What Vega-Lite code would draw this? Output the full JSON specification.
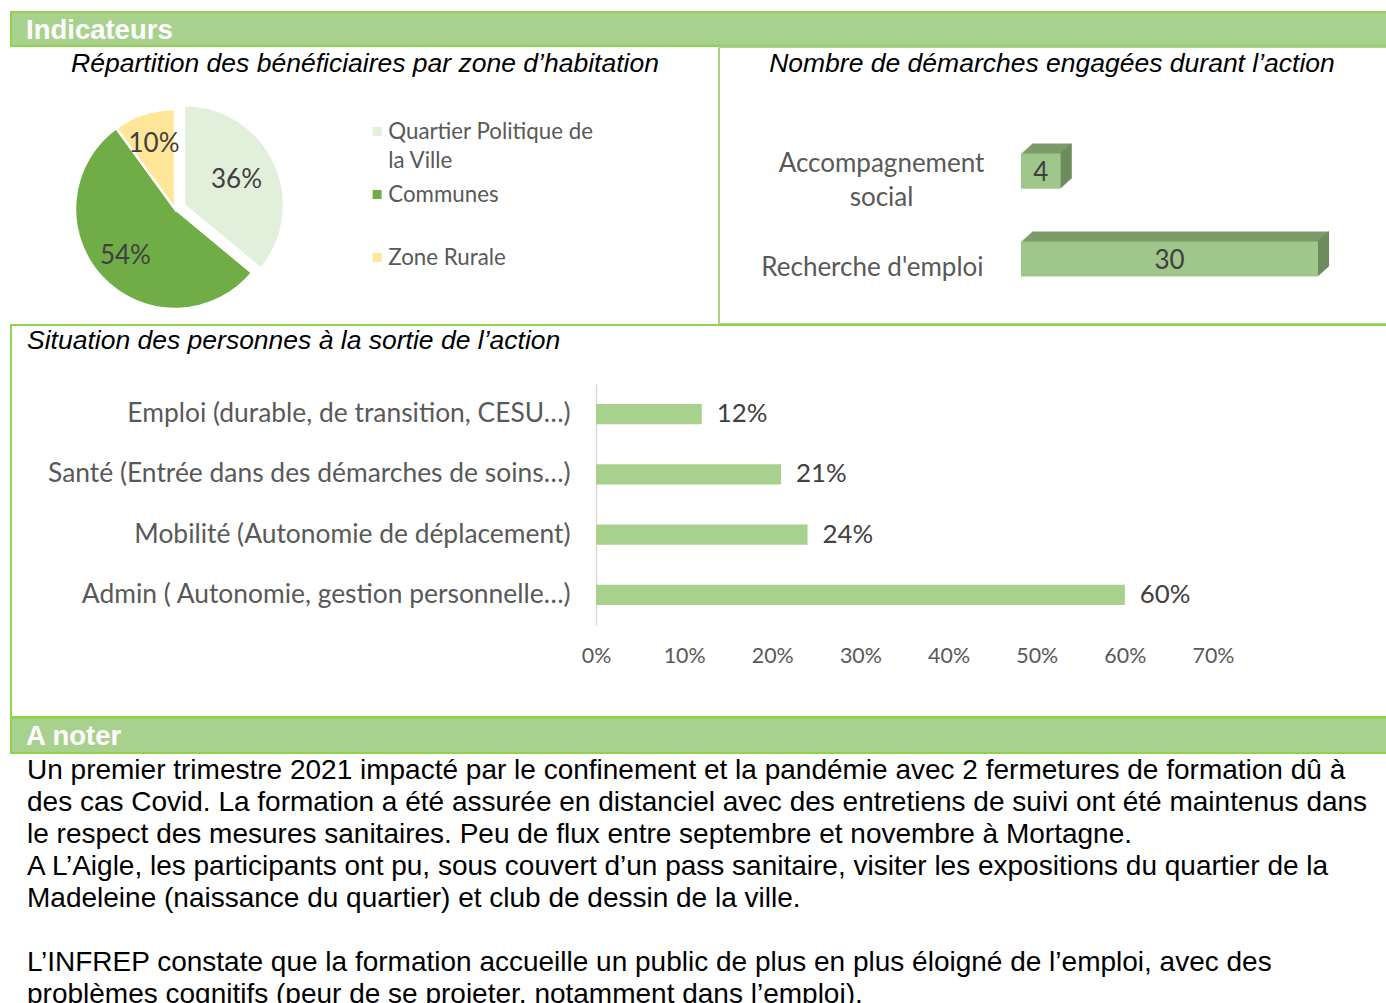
{
  "$schema": "https://vega.github.io/schema/vega-lite/v6.json",
  "padding": {"left": 10, "top": 11, "right": -2, "bottom": -10},
  "background": "#ffffff",
  "spacing": -3,
  "config": {
    "view": {"stroke": "#92d050", "strokeWidth": 2},
    "font": "Lato",
    "axis": {"grid": false, "ticks": false, "tickSize": 0, "title": null},
    "style": {"guide-label": {"lineHeight": 29}}
  },
  "vconcat": [
    {
      "width": 1376,
      "height": 34,
      "view": {"fill": "#a9d18e", "stroke": "#92d050", "strokeWidth": 2},
      "title": {"text": "Indicateurs", "orient": "bottom", "baseline": "top", "frame": "group", "anchor": "start", "offset": -29.4, "dx": 15, "font": "Liberation Sans", "fontSize": 27.5, "fontWeight": "bold", "color": "#ffffff"},
      "data": {"values": [{"t": ""}]},
      "mark": {"type": "text", "text": " "}
    },
    {
      "spacing": 0,
      "bounds": "flush",
      "hconcat": [
        {
          "width": 708,
          "height": 277,
          "title": {"text": "Répartition des bénéficiaires par zone d’habitation", "orient": "bottom", "baseline": "top", "frame": "group", "anchor": "middle", "offset": -273.4, "font": "Liberation Sans", "fontSize": 26.5, "fontStyle": "italic", "fontWeight": "normal", "color": "#000000"},
          "data": {"values": [
            {"zone": "Quartier Politique de la Ville", "part": 0.36, "rang": 1},
            {"zone": "Communes", "part": 0.54, "rang": 2},
            {"zone": "Zone Rurale", "part": 0.10, "rang": 3}
          ]},
          "transform": [{"stack": "part", "groupby": [], "sort": [{"field": "rang", "order": "ascending"}], "as": ["debut", "fin"]}],
          "layer": [
            {
              "transform": [{"filter": "datum.rang == 1"}],
              "mark": {"type": "arc", "radius": 100, "x": 173, "y": 158, "stroke": "#ffffff", "strokeWidth": 2.5},
              "encoding": {
                "theta": {"field": "debut", "type": "quantitative", "scale": {"domain": [0, 1]}},
                "theta2": {"field": "fin"},
                "color": {
                  "field": "zone", "type": "nominal",
                  "scale": {"domain": ["Quartier Politique de la Ville", "Communes", "Zone Rurale"], "range": ["#e2efda", "#70ad47", "#ffe699"]},
                  "legend": {"orient": "none", "legendX": 355, "legendY": 116, "title": null, "padding": 0, "symbolType": "M-1,-2.7H1V-0.7H-1Z", "symbolSize": 81, "symbolStrokeWidth": 0, "labelFont": "Lato", "labelFontSize": 22.3, "labelColor": "#595959", "labelOffset": 0, "rowPadding": 11, "labelLimit": 400, "labelBaseline": "alphabetic", "labelLineHeight": 29, "labelExpr": "datum.label == 'Quartier Politique de la Ville' ? ['Quartier Politique de', 'la Ville'] : [datum.label, '\u00a0']"}
                }
              }
            },
            {
              "transform": [{"filter": "datum.rang != 1"}],
              "mark": {"type": "arc", "radius": 100, "x": 164, "y": 162, "stroke": "#ffffff", "strokeWidth": 2.5},
              "encoding": {
                "theta": {"field": "debut", "type": "quantitative"},
                "theta2": {"field": "fin"},
                "color": {"field": "zone", "type": "nominal"}
              }
            },
            {
              "mark": {"type": "text", "radius": 68, "x": 164, "y": 162, "font": "Lato", "fontSize": 26, "color": "#404040"},
              "encoding": {
                "theta": {"field": "part", "type": "quantitative", "stack": true},
                "order": {"field": "rang"},
                "detail": {"field": "zone"},
                "text": {"field": "part", "format": ".0%"}
              }
            }
          ]
        },
        {
          "width": 668,
          "height": 277,
          "view": {"stroke": "#a9d18e", "strokeWidth": 2},
          "title": {"text": "Nombre de démarches engagées durant l’action", "orient": "bottom", "baseline": "top", "frame": "group", "anchor": "middle", "offset": -273.4, "dx": -1, "font": "Liberation Sans", "fontSize": 26.5, "fontStyle": "italic", "fontWeight": "normal", "color": "#000000"},
          "data": {"values": [
            {"demarche": "Accompagnement social", "nombre": 4},
            {"demarche": "Recherche d'emploi", "nombre": 30}
          ]},
          "encoding": {
            "y": {
              "field": "demarche", "type": "nominal", "sort": null,
              "scale": {"range": [62.5, 273.5], "paddingInner": 0.6, "paddingOuter": 0.5},
              "axis": {"orient": "left", "offset": -302, "domain": false, "ticks": false, "labelFont": "Lato", "labelFontSize": 26, "labelColor": "#595959", "labelLineHeight": 34, "labelLimit": 400,
                "labelOffset": {"condition": {"test": "datum.value === 'Accompagnement social'", "value": -7}, "value": 9},
                "labelPadding": {"condition": {"test": "datum.value === 'Accompagnement social'", "value": 140}, "value": 38},
                "labelAlign": {"condition": {"test": "datum.value === 'Accompagnement social'", "value": "center"}, "value": "right"},
                "labelExpr": "datum.value === 'Accompagnement social' ? ['Accompagnement', 'social'] : datum.label",
                "title": null}
            },
            "x": {"field": "nombre", "type": "quantitative", "scale": {"domain": [0, 30], "range": [302, 599]}, "axis": null}
          },
          "layer": [
            {"mark": {"type": "bar", "color": "#7c9a6a", "xOffset": 11, "x2Offset": 11, "yOffset": -10, "y2Offset": -10}},
            {"mark": {"type": "bar", "color": "#7c9a6a", "xOffset": 9.9, "x2Offset": 9.9, "yOffset": -9, "y2Offset": -9}},
            {"mark": {"type": "bar", "color": "#7c9a6a", "xOffset": 8.8, "x2Offset": 8.8, "yOffset": -8, "y2Offset": -8}},
            {"mark": {"type": "bar", "color": "#7c9a6a", "xOffset": 7.7, "x2Offset": 7.7, "yOffset": -7, "y2Offset": -7}},
            {"mark": {"type": "bar", "color": "#7c9a6a", "xOffset": 6.6, "x2Offset": 6.6, "yOffset": -6, "y2Offset": -6}},
            {"mark": {"type": "bar", "color": "#7c9a6a", "xOffset": 5.5, "x2Offset": 5.5, "yOffset": -5, "y2Offset": -5}},
            {"mark": {"type": "bar", "color": "#7c9a6a", "xOffset": 4.4, "x2Offset": 4.4, "yOffset": -4, "y2Offset": -4}},
            {"mark": {"type": "bar", "color": "#7c9a6a", "xOffset": 3.3, "x2Offset": 3.3, "yOffset": -3, "y2Offset": -3}},
            {"mark": {"type": "bar", "color": "#7c9a6a", "xOffset": 2.2, "x2Offset": 2.2, "yOffset": -2, "y2Offset": -2}},
            {"mark": {"type": "bar", "color": "#7c9a6a", "xOffset": 1.1, "x2Offset": 1.1, "yOffset": -1, "y2Offset": -1}},
            {"mark": {"type": "tick", "orient": "vertical", "color": "#68865a", "thickness": 1.3, "size": 35.16, "xOffset": 10.45, "yOffset": -10}},
            {"mark": {"type": "tick", "orient": "vertical", "color": "#68865a", "thickness": 1.3, "size": 35.16, "xOffset": 9.35, "yOffset": -9}},
            {"mark": {"type": "tick", "orient": "vertical", "color": "#68865a", "thickness": 1.3, "size": 35.16, "xOffset": 8.25, "yOffset": -8}},
            {"mark": {"type": "tick", "orient": "vertical", "color": "#68865a", "thickness": 1.3, "size": 35.16, "xOffset": 7.15, "yOffset": -7}},
            {"mark": {"type": "tick", "orient": "vertical", "color": "#68865a", "thickness": 1.3, "size": 35.16, "xOffset": 6.05, "yOffset": -6}},
            {"mark": {"type": "tick", "orient": "vertical", "color": "#68865a", "thickness": 1.3, "size": 35.16, "xOffset": 4.95, "yOffset": -5}},
            {"mark": {"type": "tick", "orient": "vertical", "color": "#68865a", "thickness": 1.3, "size": 35.16, "xOffset": 3.85, "yOffset": -4}},
            {"mark": {"type": "tick", "orient": "vertical", "color": "#68865a", "thickness": 1.3, "size": 35.16, "xOffset": 2.75, "yOffset": -3}},
            {"mark": {"type": "tick", "orient": "vertical", "color": "#68865a", "thickness": 1.3, "size": 35.16, "xOffset": 1.65, "yOffset": -2}},
            {"mark": {"type": "tick", "orient": "vertical", "color": "#68865a", "thickness": 1.3, "size": 35.16, "xOffset": 0.55, "yOffset": -1}},
            {"mark": {"type": "bar", "color": "#a0c78b"}},
            {
              "mark": {"type": "text", "font": "Lato", "fontSize": 26, "color": "#404040", "dy": 2},
              "encoding": {
                "x": {"field": "nombre", "type": "quantitative", "stack": "zero", "bandPosition": 0.5},
                "text": {"field": "nombre"}
              }
            }
          ]
        }
      ]
    },
    {
      "width": 1376,
      "height": 392,
      "title": {"text": "Situation des personnes à la sortie de l’action", "orient": "bottom", "baseline": "top", "frame": "group", "anchor": "start", "dx": 16, "offset": -389.4, "font": "Liberation Sans", "fontSize": 26.5, "fontStyle": "italic", "fontWeight": "normal", "color": "#000000"},
      "data": {"values": [
        {"situation": "Emploi (durable, de transition, CESU…)", "taux": 0.12},
        {"situation": "Santé (Entrée dans des démarches de soins…)", "taux": 0.21},
        {"situation": "Mobilité (Autonomie de déplacement)", "taux": 0.24},
        {"situation": "Admin ( Autonomie, gestion personnelle…)", "taux": 0.60}
      ]},
      "encoding": {
        "y": {
          "field": "situation", "type": "nominal", "sort": null,
          "scale": {"range": [59, 300], "paddingInner": 0.668, "paddingOuter": 0.334},
          "axis": {"orient": "left", "offset": -585, "domain": true, "domainColor": "#d9d9d9", "domainWidth": 1.5, "ticks": false, "labelPadding": 26, "labelFont": "Lato", "labelFontSize": 26.4, "labelColor": "#595959", "labelLimit": 600, "title": null,
            "labelExpr": "indexof(datum.label, 'Santé') == 0 ? datum.label + '\u00a0' : datum.label"}
        },
        "x": {
          "field": "taux", "type": "quantitative",
          "scale": {"domain": [0, 0.7], "range": [585, 1202]},
          "axis": {"orient": "bottom", "offset": -92, "domain": false, "ticks": false, "values": [0, 0.1, 0.2, 0.3, 0.4, 0.5, 0.6, 0.7], "format": ".0%", "labelPadding": 20, "labelFont": "Lato", "labelFontSize": 21.4, "labelColor": "#595959", "labelFlush": false, "title": null}
        }
      },
      "layer": [
        {"mark": {"type": "bar", "color": "#a9d18e"}},
        {
          "mark": {"type": "text", "align": "left", "dx": 15, "font": "Lato", "fontSize": 25.8, "color": "#404040"},
          "encoding": {"text": {"field": "taux", "format": ".0%"}}
        }
      ]
    },
    {
      "width": 1376,
      "height": 35,
      "view": {"fill": "#a9d18e", "stroke": "#92d050", "strokeWidth": 2},
      "title": {"text": "A noter", "orient": "bottom", "baseline": "top", "frame": "group", "anchor": "start", "offset": -29.7, "dx": 15, "font": "Liberation Sans", "fontSize": 27.5, "fontWeight": "bold", "color": "#ffffff"},
      "data": {"values": [{"t": ""}]},
      "mark": {"type": "text", "text": " "}
    },
    {
      "width": 1376,
      "height": 266,
      "title": {
        "text": [
          "Un premier trimestre 2021 impacté par le confinement et la pandémie avec 2 fermetures de formation dû à",
          "des cas Covid. La formation a été assurée en distanciel avec des entretiens de suivi ont été maintenus dans",
          "le respect des mesures sanitaires. Peu de flux entre septembre et novembre à Mortagne.",
          "A L’Aigle, les participants ont pu, sous couvert d’un pass sanitaire, visiter les expositions du quartier de la",
          "Madeleine (naissance du quartier) et club de dessin de la ville."
        ],
        "subtitle": [
          "L’INFREP constate que la formation accueille un public de plus en plus éloigné de l’emploi, avec des",
          "problèmes cognitifs (peur de se projeter, notamment dans l’emploi)."
        ],
        "orient": "bottom", "baseline": "top", "frame": "group", "anchor": "start", "offset": -263.1, "dx": 16,
        "font": "Liberation Sans", "fontSize": 28, "fontWeight": "normal", "lineHeight": 32, "color": "#000000",
        "subtitleFont": "Liberation Sans", "subtitleFontSize": 28, "subtitleFontWeight": "normal", "subtitleLineHeight": 32, "subtitleColor": "#000000", "subtitlePadding": 36
      },
      "data": {"values": [{"t": ""}]},
      "mark": {"type": "text", "text": " "}
    }
  ]
}
